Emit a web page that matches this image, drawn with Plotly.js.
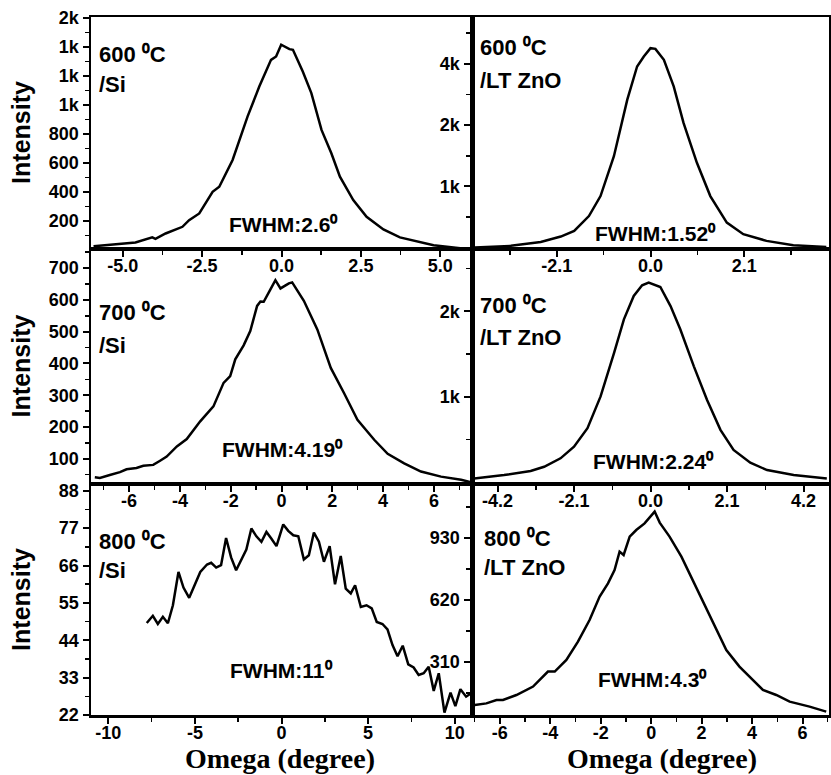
<!DOCTYPE html>
<html>
<head>
<meta charset="utf-8">
<script src="https://cdn.plot.ly/plotly-3.0.1.min.js"></script>
<style>html,body{margin:0;padding:0;background:#fff;}#chart{width:831px;height:775px;}</style>
</head>
<body>
<div id="chart"></div>
<script>
// ---- Data ----
// 600 C / Si
const si600X = [-5.92,-4.6,-4.07,-3.97,-3.65,-3.12,-2.91,-2.59,-2.17,-1.96,-1.54,-1.07,-0.70,-0.33,-0.17,-0.01,0.25,0.36,0.67,0.94,1.26,1.57,1.84,2.26,2.68,3.21,3.73,4.37,4.79,5.63];
const si600Y = [27,53,88,78,115,161,207,253,402,437,621,919,1126,1310,1333,1414,1384,1379,1230,1081,828,667,506,345,230,143,88,57,34,14];
// 600 C / LT ZnO
const zno600X = [-3.94,-3.13,-2.46,-2.01,-1.71,-1.38,-1.12,-0.82,-0.52,-0.30,-0.15,0.0,0.11,0.30,0.52,0.74,1.04,1.34,1.71,2.08,2.60,3.20,3.94];
const zno600Y = [503,530,594,682,773,1017,1342,1993,2915,3456,3619,3755,3744,3565,3131,2536,1885,1342,910,720,611,541,513];
// 700 C / Si
const si700X = [-7.35,-7.15,-6.76,-6.36,-6.10,-5.71,-5.44,-5.05,-4.78,-4.52,-4.12,-3.73,-3.20,-2.68,-2.28,-2.02,-1.82,-1.49,-1.23,-0.96,-0.83,-0.70,-0.43,-0.24,-0.04,0.29,0.42,0.88,1.41,1.94,2.46,2.99,3.65,4.18,4.83,5.49,6.28,7.07,7.54];
const si700Y = [42,40,49,58,67,71,78,81,94,107,139,162,218,265,339,360,413,457,502,581,595,594,634,662,636,652,655,597,507,386,307,223,160,116,86,60,44,34,25];
// 700 C / LT ZnO
const zno700X = [-4.84,-4.02,-3.29,-2.92,-2.47,-2.10,-1.73,-1.37,-1.00,-0.73,-0.46,-0.23,-0.05,0.27,0.55,0.82,1.19,1.55,1.92,2.28,2.74,3.20,3.93,4.84];
const zno700Y = [44,83,130,180,279,416,632,1004,1514,1906,2180,2305,2337,2285,2062,1788,1356,965,612,377,227,141,83,44];
// 800 C / Si
const si800X = [-7.78,-7.43,-7.14,-6.85,-6.56,-6.27,-5.95,-5.66,-5.33,-4.98,-4.69,-4.30,-4.06,-3.77,-3.49,-3.20,-2.91,-2.62,-2.33,-2.03,-1.74,-1.45,-1.16,-0.87,-0.58,-0.29,0.10,0.39,0.68,0.97,1.29,1.58,1.87,2.16,2.45,2.78,3.09,3.42,3.71,4.00,4.25,4.58,4.91,5.21,5.50,5.83,6.12,6.41,6.70,7.00,7.32,7.63,7.92,8.21,8.50,8.79,9.08,9.41,9.76,10.04,10.33,10.66,10.95,11.1];
const si800Y = [49.1,51.2,48.8,50.9,49.0,54.3,64.1,59.5,56.5,60.7,64.1,66.3,66.8,65.4,66.1,74.1,68.4,64.6,67.6,70.7,76.9,74.6,73.0,75.9,73.9,71.7,78.1,76.2,74.9,74.6,67.8,69.0,75.7,73.0,67.1,71.7,60.5,68.8,59.2,57.8,60.2,53.8,54.3,53.4,49.4,48.8,47.2,42.6,39.3,42.4,36.9,36.0,33.8,34.3,36.2,29.1,34.3,22.7,28.6,24.6,29.6,27.4,28.4,25.5];
// 800 C / LT ZnO
const zno800X = [-6.99,-6.53,-6.13,-5.87,-5.34,-4.68,-4.09,-3.82,-3.36,-2.90,-2.44,-2.04,-1.71,-1.45,-1.25,-1.09,-0.85,-0.59,-0.26,0.14,0.34,0.73,1.20,1.52,1.92,2.45,2.98,3.50,4.03,4.43,4.96,5.49,6.28,6.94];
const zno800Y = [95,103,120,120,145,187,262,262,320,412,520,637,703,770,862,845,937,970,1003,1062,1007,937,837,753,653,512,370,287,220,170,145,112,87,62];

// ---- Tick labels ----
const x1Ticks = [-5,-2.5,0,2.5,5], x1Text = ['-5.0','-2.5','0.0','2.5','5.0'];
const y1Ticks = [200,400,600,800,1000,1200,1400,1600], y1Text = ['200','400','600','800','1k','1k','1k','2k'];
const x2Ticks = [-2.1,0,2.1], x2Text = ['-2.1','0.0','2.1'];
const y2Ticks = [1500,2500,3500], y2Text = ['1k','2k','4k'];
const x3Ticks = [-6,-4,-2,0,2,4,6], x3Text = ['-6','-4','-2','0','2','4','6'];
const y3Ticks = [100,200,300,400,500,600,700], y3Text = ['100','200','300','400','500','600','700'];
const x4Ticks = [-4.2,-2.1,0,2.1,4.2], x4Text = ['-4.2','-2.1','0.0','2.1','4.2'];
const y4Ticks = [1000,2000], y4Text = ['1k','2k'];
const x5Ticks = [-10,-5,0,5,10], x5Text = ['-10','-5','0','5','10'];
const y5Ticks = [22,33,44,55,66,77,88], y5Text = ['22','33','44','55','66','77','88'];
const x6Ticks = [-6,-4,-2,0,2,4,6], x6Text = ['-6','-4','-2','0','2','4','6'];
const y6Ticks = [310,620,930], y6Text = ['310','620','930'];

const labelsTemp = ['600 \u2070C','600 \u2070C','700 \u2070C','700 \u2070C','800 \u2070C','800 \u2070C'];
const labelsSub = ['/Si','/LT ZnO','/Si','/LT ZnO','/Si','/LT ZnO'];
const labelsFwhm = ['FWHM:2.6\u2070','FWHM:1.52\u2070','FWHM:4.19\u2070','FWHM:2.24\u2070','FWHM:11\u2070','FWHM:4.3\u2070'];
const xTitleText = 'Omega (degree)';

// ---- Layout ----
const W = 831, H = 775;
const px = v => v / W, py = v => 1 - v / H;
const SANS = 'Liberation Sans, Arial, sans-serif';
const SERIF = 'Liberation Serif, Times New Roman, serif';
const tickFont = {family: SANS, size: 18, color: 'black', weight: 'bold'};

function ax(domain, anchor, range, tv, tt, minorTick0, minorDtick, extra) {
  return Object.assign({
    domain: domain, anchor: anchor, range: range,
    tickmode: 'array', tickvals: tv, ticktext: tt,
    showline: true, linewidth: 2.5, linecolor: 'black', mirror: true,
    ticks: 'outside', ticklen: 6, tickwidth: 2, tickcolor: 'black',
    minor: {tickmode: 'linear', tick0: minorTick0, dtick: minorDtick, ticks: 'outside', ticklen: 4, tickwidth: 1.5, tickcolor: 'black'},
    showgrid: false, zeroline: false, tickfont: tickFont, fixedrange: true
  }, extra || {});
}

const xL = [91/W, 472/W], xR = [472/W, 829/W];
const yT = [1-248/H, 1-17/H], yM = [1-483/H, 1-249/H], yB = [1-715/H, 1-484/H];

const yTitle = {text: 'Intensity', font: {family: SANS, size: 25, color: 'black', weight: 'bold'}};
const xOpt = {ticklabelstandoff: -6};

const lineStyle = {color: 'black', width: 2.5};
const traces = [
  {x: si600X, y: si600Y, xaxis: 'x', yaxis: 'y'},
  {x: zno600X, y: zno600Y, xaxis: 'x2', yaxis: 'y2'},
  {x: si700X, y: si700Y, xaxis: 'x3', yaxis: 'y3'},
  {x: zno700X, y: zno700Y, xaxis: 'x4', yaxis: 'y4'},
  {x: si800X, y: si800Y, xaxis: 'x5', yaxis: 'y5'},
  {x: zno800X, y: zno800Y, xaxis: 'x6', yaxis: 'y6'}
].map(t => Object.assign(t, {type: 'scatter', mode: 'lines', line: lineStyle, showlegend: false, hoverinfo: 'skip'}));

// [x left, cap-centre y line 1, cap-centre y line 2]
const tempPos = [[97, 55, 84], [478, 47, 80], [97, 313, 345], [478, 306, 337], [97, 541, 570], [482, 538, 567]];
const fwhmPos = [[283, 225], [655, 233], [282, 449], [653, 462], [281, 670], [652, 679]];
const annFont = {family: SANS, size: 22, color: 'black', weight: 'bold'};
const annotations = [];
labelsTemp.forEach((t, i) => {
  annotations.push({text: t, xref: 'paper', yref: 'paper', x: px(tempPos[i][0]), y: py(tempPos[i][1]),
    xanchor: 'left', yanchor: 'middle', showarrow: false, font: annFont});
  annotations.push({text: labelsSub[i], xref: 'paper', yref: 'paper', x: px(tempPos[i][0]), y: py(tempPos[i][2]),
    xanchor: 'left', yanchor: 'middle', showarrow: false, font: annFont});
});
labelsFwhm.forEach((t, i) => annotations.push({
  text: t, xref: 'paper', yref: 'paper', x: px(fwhmPos[i][0]), y: py(fwhmPos[i][1]),
  xanchor: 'center', yanchor: 'middle', showarrow: false,
  font: {family: SANS, size: 21, color: 'black', weight: 'bold'}
}));
// x-axis titles under the two bottom panels
[[280], [662]].forEach(p => annotations.push({
  text: xTitleText, xref: 'paper', yref: 'paper', x: px(p[0]), y: 0,
  xanchor: 'center', yanchor: 'bottom', showarrow: false, borderpad: 0,
  font: {family: SERIF, size: 28, color: 'black', weight: 'bold'}
}));

const layout = {
  width: W, height: H,
  margin: {l: 0, r: 0, t: 0, b: 0},
  paper_bgcolor: 'white', plot_bgcolor: 'white',
  showlegend: false,
  xaxis:  ax(xL, 'y',  [-6, 6], x1Ticks, x1Text, 0, 1.25, xOpt),
  yaxis:  ax(yT, 'x',  [15, 1605], y1Ticks, y1Text, 0, 100, {title: yTitle}),
  xaxis2: ax(xR, 'y2', [-4, 4], x2Ticks, x2Text, 0, 1.05, xOpt),
  yaxis2: ax(yT, 'x2', [495, 4264], y2Ticks, y2Text, 0, 500),
  xaxis3: ax(xL, 'y3', [-7.5, 7.5], x3Ticks, x3Text, 0, 1, xOpt),
  yaxis3: ax(yM, 'x3', [24, 760], y3Ticks, y3Text, 0, 50, {title: yTitle}),
  xaxis4: ax(xR, 'y4', [-4.9, 4.9], x4Ticks, x4Text, 0, 1.05, xOpt),
  yaxis4: ax(yM, 'x4', [-10, 2730], y4Ticks, y4Text, 0, 500),
  xaxis5: ax(xL, 'y5', [-11, 11], x5Ticks, x5Text, 0, 2.5, xOpt),
  yaxis5: ax(yB, 'x5', [22, 90], y5Ticks, y5Text, 0, 5.5, {title: yTitle}),
  xaxis6: ax(xR, 'y6', [-7.1, 7.05], x6Ticks, x6Text, 0, 1, xOpt),
  yaxis6: ax(yB, 'x6', [45, 1200], y6Ticks, y6Text, 0, 155),
  annotations: annotations
};

Plotly.newPlot('chart', traces, layout, {displayModeBar: false, staticPlot: true});
</script>
</body>
</html>
